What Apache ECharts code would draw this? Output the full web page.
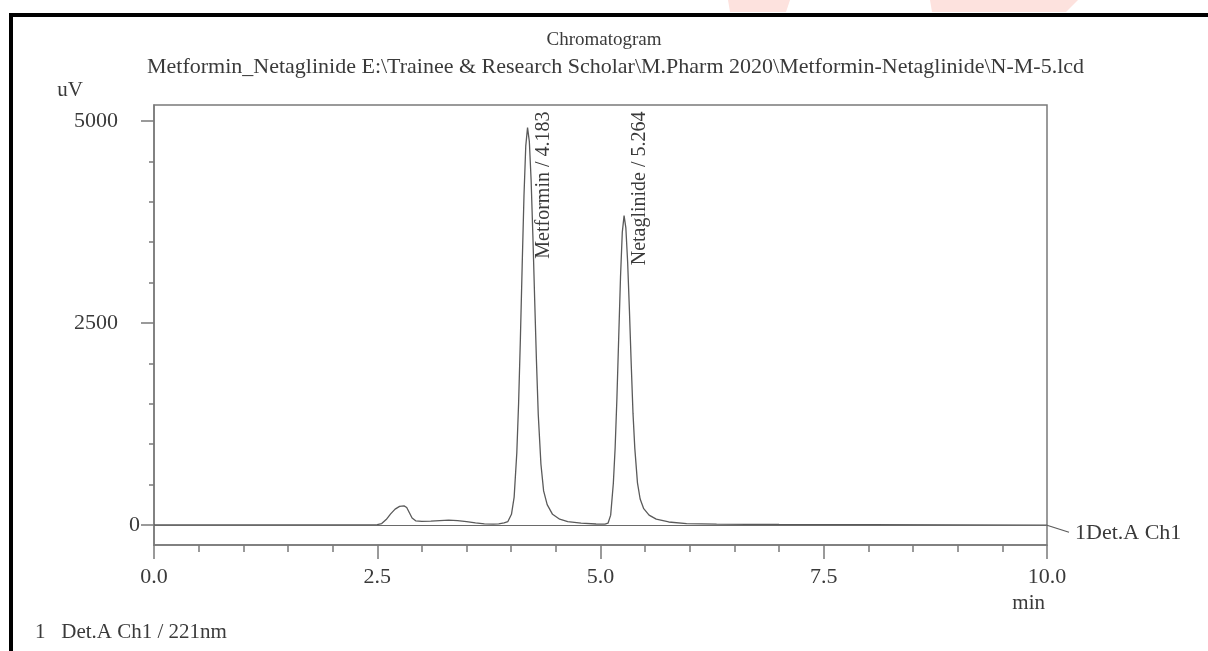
<!DOCTYPE html>
<html>
<head>
<meta charset="utf-8">
<script src="https://cdn.jsdelivr.net/npm/echarts@6/dist/echarts.min.js"></script>
<style>
  html, body { margin: 0; padding: 0; background: #fff; }
  #chart { width: 1208px; height: 651px; }
</style>
</head>
<body>
<div id="chart"></div>
<script>
// ========== 数据 ==========
const traceTime = [
  0.0, 1.0, 2.0, 2.5, 2.55, 2.6, 2.65, 2.7, 2.75, 2.8, 2.83, 2.86, 2.89, 2.93,
  3.0, 3.1, 3.2, 3.3, 3.4, 3.5, 3.6, 3.7, 3.8, 3.86, 3.92, 3.963, 4.003, 4.033,
  4.063, 4.083, 4.103, 4.123, 4.143, 4.163, 4.183, 4.203, 4.223, 4.243, 4.263,
  4.283, 4.303, 4.333, 4.363, 4.403, 4.463, 4.543, 4.633, 4.783, 4.95, 5.05,
  5.084, 5.114, 5.144, 5.164, 5.184, 5.204, 5.224, 5.244, 5.264, 5.284, 5.304,
  5.324, 5.344, 5.364, 5.384, 5.414, 5.444, 5.484, 5.544, 5.624, 5.764, 5.964,
  6.3, 7.0, 8.0, 9.0, 10.0,
];
const traceUv = [
  0, 0, 0, 2, 15, 65, 135, 195, 228, 235, 215, 150, 85, 50,
  42, 45, 52, 58, 52, 40, 25, 12, 8, 12, 25, 40, 130, 343,
  895, 1508, 2307, 3213, 4070, 4690, 4920, 4750, 4270, 3570, 2785,
  2023, 1367, 750, 420, 250, 130, 70, 40, 20, 10, 8,
  20, 120, 518, 955, 1574, 2323, 3066, 3623, 3830, 3677, 3253,
  2653, 1993, 1380, 950, 520, 320, 200, 120, 70, 35, 15,
  8, 4, 2, 0, -5,
];
const peakNames = ["Metformin", "Netaglinide"];
const peakTimes = [4.183, 5.264];
const yMajorTicks = [0, 2500, 5000];
const yMinorTicks = [500, 1000, 1500, 2000, 3000, 3500, 4000, 4500];

const FONT = "'Liberation Serif', 'Times New Roman', serif";
const INK = "#3a3a3a";
const AXIS = "#7a7a7a";
const LABEL_Y = 5120; // 峰标签顶端所在的纵坐标

const chart = echarts.init(document.getElementById("chart"));

chart.setOption({
  backgroundColor: "#fff",
  animation: false,
  title: [
    {
      text: "Chromatogram",
      left: "center",
      top: 26,
      textStyle: { fontFamily: FONT, fontSize: 19, fontWeight: "normal", color: INK },
    },
    {
      text: "Metformin_Netaglinide E:\\Trainee & Research Scholar\\M.Pharm 2020\\Metformin-Netaglinide\\N-M-5.lcd",
      left: 142,
      top: 51,
      textStyle: { fontFamily: FONT, fontSize: 22, fontWeight: "normal", color: INK },
    },
  ],
  legend: {
    left: 25,
    top: 617,
    icon: "none",
    itemWidth: 0,
    itemHeight: 0,
    formatter: "1   {name}",
    textStyle: { fontFamily: FONT, fontSize: 21, color: INK },
    data: ["Det.A Ch1 / 221nm"],
  },
  grid: {
    left: 154,
    right: 161,
    top: 105,
    bottom: 106,
    show: true,
    borderColor: AXIS,
    borderWidth: 1.5,
    backgroundColor: "transparent",
  },
  xAxis: {
    type: "value",
    min: 0,
    max: 10,
    interval: 2.5,
    name: "min",
    nameLocation: "end",
    nameGap: 0,
    nameTextStyle: {
      fontFamily: FONT, fontSize: 21, color: INK,
      align: "right", verticalAlign: "top", padding: [48, 2, 0, 0],
    },
    axisLine: { show: true, onZero: false, lineStyle: { color: AXIS, width: 1.5 } },
    axisTick: { show: true, length: 14, lineStyle: { color: AXIS, width: 1.5 } },
    minorTick: { show: true, splitNumber: 5, length: 7, lineStyle: { color: AXIS, width: 1.5 } },
    axisLabel: {
      margin: 21,
      fontFamily: FONT, fontSize: 22, color: INK,
      formatter: (v) => v.toFixed(1),
    },
    splitLine: { show: false },
  },
  yAxis: [
    {
      type: "value",
      position: "left",
      min: -250,
      max: 5200,
      name: "uV",
      nameLocation: "end",
      nameGap: 4,
      nameTextStyle: {
        fontFamily: FONT, fontSize: 21, color: INK,
        align: "right", padding: [0, 71, 0, 0],
      },
      axisLine: { show: true, onZero: false, lineStyle: { color: AXIS, width: 1.5 } },
      axisTick: { show: true, length: 13, customValues: yMajorTicks, lineStyle: { color: AXIS, width: 1.5 } },
      axisLabel: {
        customValues: yMajorTicks,
        margin: 14,
        fontFamily: FONT, fontSize: 22, color: INK,
        formatter: (v) => (v === 0 ? "0" : "{far|" + v + "}"),
        rich: { far: { padding: [0, 22, 0, 0], fontFamily: FONT, fontSize: 22, color: INK } },
      },
      splitLine: { show: false },
    },
    {
      type: "value",
      position: "left",
      min: -250,
      max: 5200,
      axisLine: { show: false, onZero: false },
      axisTick: { show: true, length: 5, customValues: yMinorTicks, lineStyle: { color: AXIS, width: 1.5 } },
      axisLabel: { show: false },
      splitLine: { show: false },
    },
  ],
  series: [
    {
      name: "Det.A Ch1 / 221nm",
      type: "line",
      yAxisIndex: 0,
      data: traceTime.map((t, i) => [t, traceUv[i]]),
      showSymbol: false,
      symbol: "none",
      lineStyle: { color: "#5a5a5a", width: 1.3 },
      itemStyle: { color: "#5a5a5a" },
      endLabel: {
        show: true,
        formatter: "1Det.A Ch1",
        distance: 28,
        offset: [0, 8],
        fontFamily: FONT, fontSize: 22, color: INK,
      },
      markLine: {
        silent: true,
        symbol: "none",
        label: { show: false },
        lineStyle: { color: "#6a6a6a", width: 1.2, type: "solid" },
        data: [{ yAxis: 0 }],
      },
      markPoint: {
        symbol: "circle",
        symbolSize: 0,
        data: peakNames.map((n, i) => ({
          name: n,
          coord: [peakTimes[i], LABEL_Y],
          value: n + " / " + peakTimes[i].toFixed(3),
        })),
        label: {
          show: true,
          position: "inside",
          formatter: "{c}",
          rotate: 90,
          align: "right",
          verticalAlign: "middle",
          offset: [0, 16],
          fontFamily: FONT, fontSize: 20, color: INK,
        },
      },
    },
  ],
});

// 外框、顶部水印残片和通道标签的引线
const endPt = chart.convertToPixel({ gridIndex: 0 }, [10, traceUv[traceUv.length - 1]]);
chart.setOption({
  graphic: [
    {
      type: "polygon", silent: true,
      shape: { points: [[728, 0], [790, 0], [786, 12], [730, 12]] },
      style: { fill: "#fde2de" },
    },
    {
      type: "polygon", silent: true,
      shape: { points: [[930, 0], [1078, 0], [1066, 12], [932, 12]] },
      style: { fill: "#fde2de" },
    },
    {
      type: "rect", silent: true,
      shape: { x: 11, y: 15, width: 1400, height: 1000 },
      style: { fill: "none", stroke: "#000", lineWidth: 4 },
    },
    {
      type: "line", silent: true,
      shape: { x1: endPt[0], y1: endPt[1], x2: endPt[0] + 22, y2: endPt[1] + 7 },
      style: { stroke: "#5a5a5a", lineWidth: 1.2 },
    },
  ],
});
</script>
</body>
</html>
